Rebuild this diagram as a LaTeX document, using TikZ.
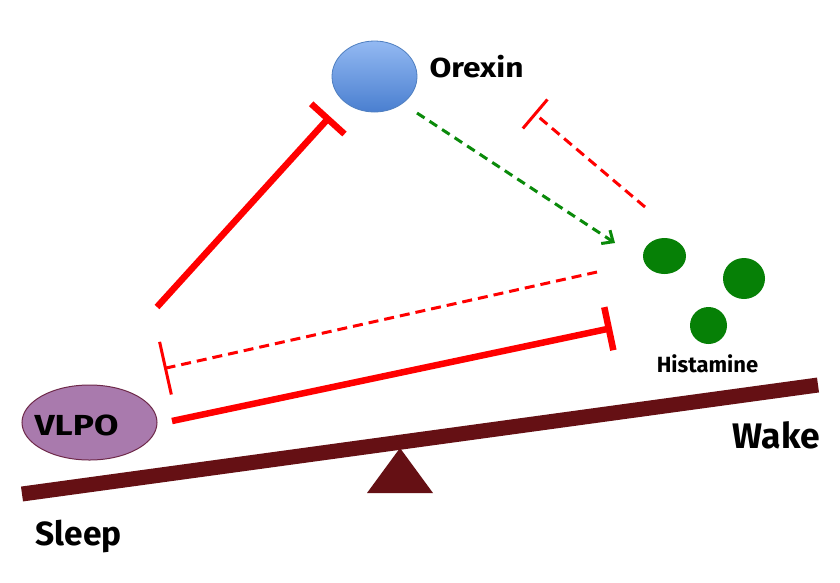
\documentclass[tikz,border=0pt]{standalone}
\usepackage{fontspec}
\setmainfont{Fira Sans}
\usetikzlibrary{shapes.geometric,arrows.meta}
\definecolor{beamc}{HTML}{651014}
\definecolor{vlpofill}{HTML}{A97AAD}
\definecolor{vlpoedge}{HTML}{6E2A4A}
\definecolor{orxtop}{HTML}{93B9F2}
\definecolor{orxbot}{HTML}{4A7FD0}
\definecolor{orxedge}{HTML}{4F7FC0}
\definecolor{histc}{HTML}{068006}
\definecolor{arrg}{HTML}{0A8A0A}
\tikzset{
  lbl/.style={inner sep=0pt, font=\bfseries},
  inhib/.style={draw=red, line width=6.5pt},
  inhibdash/.style={draw=red, line width=3pt, dash pattern=on 10pt off 6pt},
  excdash/.style={draw=arrg, line width=3pt, dash pattern=on 9pt off 6pt},
  hcell/.style={ellipse, fill=histc, draw=none, inner sep=0pt},
}
\begin{document}
\begin{tikzpicture}[x=1pt,y=-1pt]
\useasboundingbox (0,0) rectangle (840,582);
\fill[white] (0,0) rectangle (840,582);

% seesaw
\fill[beamc] (367,493) -- (433,493) -- (400,448) -- cycle;
\draw[beamc, line width=15pt] (22,494) -- (818,385);

% nodes
\node[ellipse, minimum width=85pt, minimum height=71pt, inner sep=0pt,
      top color=orxtop, bottom color=orxbot, draw=orxedge, line width=0.8pt] (orexin) at (374.5,76.5) {};
\node[lbl, xscale=1.15, font=\bfseries\fontsize{27.5}{29}\selectfont] (orexinlbl) at (476.5,67) {Orexin};

\node[ellipse, minimum width=135pt, minimum height=75pt, inner sep=0pt,
      fill=vlpofill, draw=vlpoedge, line width=1pt] (vlpo) at (89.5,422.5) {};
\node[lbl, xscale=1.22, font=\bfseries\fontsize{29}{31}\selectfont] (vlpolbl) at (76.5,425) {VLPO};

\node[hcell, minimum width=43pt, minimum height=36pt] (h1) at (664.5,256) {};
\node[hcell, minimum width=42pt, minimum height=41pt] (h2) at (744,278.5) {};
\node[hcell, minimum width=37pt, minimum height=37pt] (h3) at (708.5,325.5) {};
\node[lbl, font=\bfseries\fontsize{22}{24}\selectfont] (histlbl) at (707.5,364) {Histamine};

\node[lbl, font=\bfseries\fontsize{35.5}{37}\selectfont] (wake) at (776.5,435) {Wake};
\node[lbl, font=\bfseries\fontsize{33.5}{35}\selectfont] (sleep) at (78.5,536) {Sleep};

% connector end points
\coordinate (a1) at (157,307);
\coordinate (a2) at (330,116.5);
\coordinate (b1) at (172,421);
\coordinate (b2) at (612,328);
\coordinate (c1) at (597,272);
\coordinate (c2) at (164,368.5);
\coordinate (d1) at (645,207);
\coordinate (d2) at (534,113);
\coordinate (e1) at (417,113);
\coordinate (e2) at (615,243);

% connectors
\draw[inhib, -{Bar[width=45pt]}] (a1) -- (a2);
\draw[inhib, -{Bar[width=44pt]}] (b1) -- (b2);
\draw[inhibdash, -{Bar[width=54pt]}] (c1) -- (c2);
\draw[inhibdash, -{Bar[width=38pt]}] (d1) -- (d2);
\draw[excdash, -{Straight Barb[length=9pt,width=16pt]}] (e1) -- (e2);
\end{tikzpicture}
\end{document}
